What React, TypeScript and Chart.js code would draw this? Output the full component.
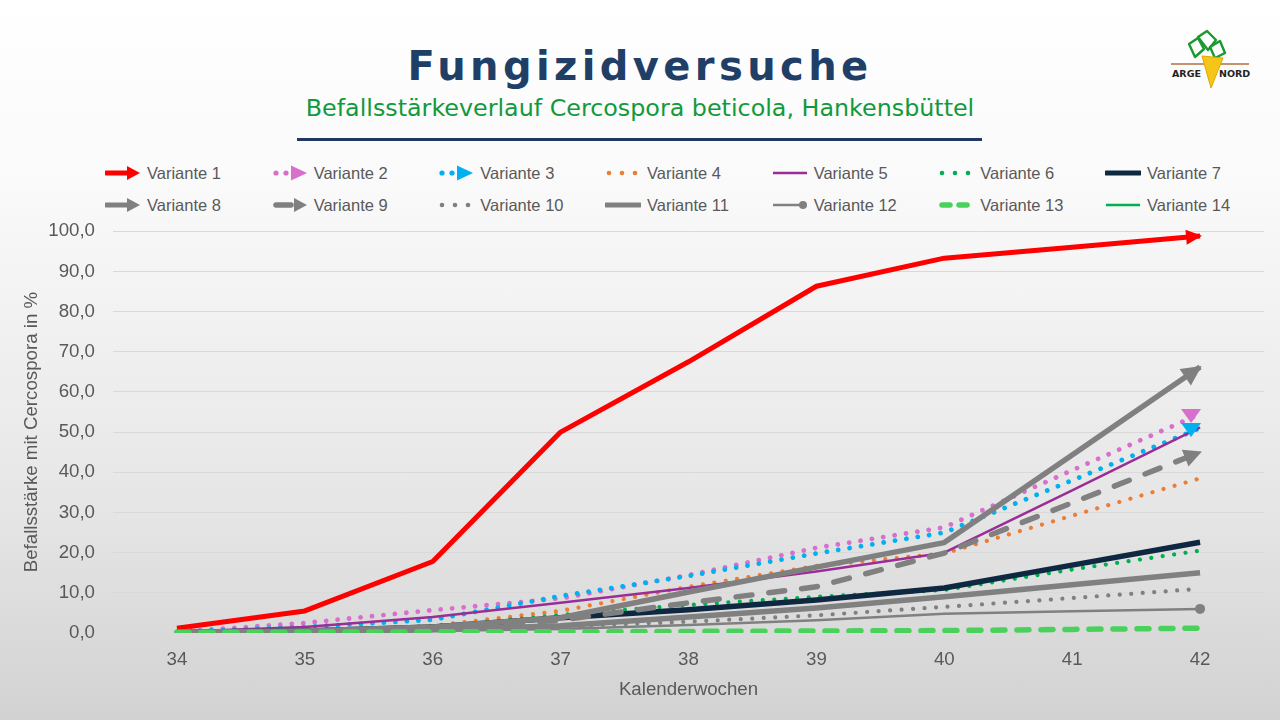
import React, { useEffect, useRef } from 'react';
import { Chart, registerables } from 'chart.js';

Chart.register(...registerables);

// ---------- data ----------
const WEEKS = ['34', '35', '36', '37', '38', '39', '40', '41', '42'];

const VARIANTE_1 = [1.2, 5.5, 17.8, 50.0, 67.5, 86.3, 93.3, 96.0, 98.8];
const VARIANTE_2 = [0.3, 2.5, 5.7, 8.6, 14.4, 21.2, 26.3, 40.5, 54.5];
const VARIANTE_3 = [0.3, 1.5, 3.3, 9.2, 14.2, 19.8, 25.0, 38.0, 51.0];
const VARIANTE_4 = [0.2, 0.5, 1.8, 5.5, 11.5, 16.7, 19.8, 29.2, 38.5];
const VARIANTE_5 = [0.3, 1.5, 4.0, 7.5, 11.2, 15.3, 20.0, 35.5, 51.2];
const VARIANTE_6 = [0.2, 0.3, 1.5, 4.5, 7.0, 9.0, 10.7, 15.8, 20.5];
const VARIANTE_7 = [0.2, 0.5, 1.5, 3.8, 5.8, 8.2, 11.2, 16.9, 22.6];
const VARIANTE_8 = [0.2, 0.5, 1.5, 3.8, 10.2, 16.4, 22.5, 44.3, 66.2];
const VARIANTE_9 = [0.1, 0.3, 1.0, 3.2, 7.5, 11.5, 19.9, 32.4, 45.0];
const VARIANTE_10 = [0.1, 0.3, 0.8, 1.6, 2.8, 4.4, 6.5, 8.7, 11.0];
const VARIANTE_11 = [0.1, 0.3, 0.8, 1.8, 4.0, 6.2, 9.0, 12.0, 15.0];
const VARIANTE_12 = [0.1, 0.2, 0.5, 1.0, 2.0, 3.2, 4.8, 5.4, 6.0];
const VARIANTE_13 = [0.1, 0.2, 0.3, 0.3, 0.4, 0.5, 0.6, 0.9, 1.2];
const VARIANTE_14: (number | null)[] = [null, null, null, null, null, null, null, null, null];

const SERIES_LABELS = [
  'Variante 1', 'Variante 2', 'Variante 3', 'Variante 4', 'Variante 5', 'Variante 6', 'Variante 7',
  'Variante 8', 'Variante 9', 'Variante 10', 'Variante 11', 'Variante 12', 'Variante 13', 'Variante 14',
];
const SERIES_VALUES = [
  VARIANTE_1, VARIANTE_2, VARIANTE_3, VARIANTE_4, VARIANTE_5, VARIANTE_6, VARIANTE_7,
  VARIANTE_8, VARIANTE_9, VARIANTE_10, VARIANTE_11, VARIANTE_12, VARIANTE_13, VARIANTE_14,
];

const Y_MIN = 0;
const Y_MAX = 100;
const Y_STEP = 10;

// ---------- styles ----------
type Kind = 'solid' | 'dot' | 'dash';
type Style = {
  color: string;
  width: number;
  kind: Kind;
  dash?: number[];
  arrow?: 'line' | 'down';
  arrowLen?: number;
  arrowWid?: number;
  endDot?: number;
};

const GRAY = '#808080';
const STYLES: Style[] = [
  { color: '#ff0000', width: 5, kind: 'solid', arrow: 'line', arrowLen: 16, arrowWid: 15 },
  { color: '#d86fcd', width: 4.8, kind: 'dot', dash: [0.01, 11.5], arrow: 'down', arrowLen: 14, arrowWid: 20 },
  { color: '#00b0f0', width: 4.8, kind: 'dot', dash: [0.01, 11.5], arrow: 'down', arrowLen: 14, arrowWid: 20 },
  { color: '#ed7d31', width: 4.2, kind: 'dot', dash: [0.01, 11.5] },
  { color: '#9b2d96', width: 2.5, kind: 'solid' },
  { color: '#00b050', width: 4.2, kind: 'dot', dash: [0.01, 11.5] },
  { color: '#0e2841', width: 5.5, kind: 'solid' },
  { color: GRAY, width: 5.5, kind: 'solid', arrow: 'line', arrowLen: 20, arrowWid: 20 },
  { color: GRAY, width: 5.5, kind: 'dash', dash: [16, 17], arrow: 'line', arrowLen: 18, arrowWid: 18 },
  { color: GRAY, width: 4.2, kind: 'dot', dash: [0.01, 11.5] },
  { color: GRAY, width: 5.5, kind: 'solid' },
  { color: GRAY, width: 2.5, kind: 'solid', endDot: 5 },
  { color: '#4ad15c', width: 5.5, kind: 'dash', dash: [12, 12] },
  { color: '#00b050', width: 2.5, kind: 'solid' },
];

const TEXT_COLOR = '#595959';
const AXIS_FONT = '"Liberation Sans", Arial, sans-serif';

const fmt = (v: number) => v.toFixed(1).replace('.', ',');

// ---------- arrowheads plugin ----------
const arrowPlugin = {
  id: 'arrowHeads',
  afterDatasetsDraw(chart: any) {
    const ctx = chart.ctx as CanvasRenderingContext2D;
    chart.data.datasets.forEach((_ds: any, i: number) => {
      const st = STYLES[i];
      if (!st || !st.arrow) return;
      const meta = chart.getDatasetMeta(i);
      const pts = meta.data;
      if (pts.length < 2) return;
      const p1 = pts[pts.length - 1];
      const p0 = pts[pts.length - 2];
      const L = st.arrowLen || 14;
      const W = st.arrowWid || 14;
      ctx.save();
      ctx.fillStyle = st.color;
      if (st.arrow === 'down') {
        ctx.translate(p1.x - 9, p1.y + 2);
        ctx.beginPath();
        ctx.moveTo(-W / 2, -L / 2);
        ctx.lineTo(W / 2, -L / 2);
        ctx.lineTo(0, L / 2);
        ctx.closePath();
        ctx.fill();
      } else {
        const ang = Math.atan2(p1.y - p0.y, p1.x - p0.x);
        ctx.translate(p1.x, p1.y);
        ctx.rotate(ang);
        ctx.beginPath();
        ctx.moveTo(2, 0);
        ctx.lineTo(2 - L, -W / 2);
        ctx.lineTo(2 - L, W / 2);
        ctx.closePath();
        ctx.fill();
      }
      ctx.restore();
    });
  },
};

// ---------- legend sample ----------
function LegendSample({ s }: { s: Style }) {
  const y = 8;
  const w = s.kind === 'solid' ? Math.min(s.width, 5) : s.width;
  const items: React.ReactNode[] = [];
  if (s.kind === 'dot') {
    const xs = s.arrow ? [4, 14] : [4, 17, 30];
    xs.forEach((x, k) => items.push(<circle key={'d' + k} cx={x} cy={y} r={s.width / 2 + 0.2} fill={s.color} />));
  } else if (s.kind === 'dash') {
    if (s.arrow) {
      items.push(<line key="l" x1={4} y1={y} x2={19} y2={y} stroke={s.color} strokeWidth={w} strokeLinecap="round" />);
    } else {
      items.push(<line key="l1" x1={4} y1={y} x2={12} y2={y} stroke={s.color} strokeWidth={w} strokeLinecap="round" />);
      items.push(<line key="l2" x1={21} y1={y} x2={29} y2={y} stroke={s.color} strokeWidth={w} strokeLinecap="round" />);
    }
  } else {
    const x2 = s.arrow ? 24 : s.endDot ? 31 : 35;
    items.push(<line key="l" x1={1} y1={y} x2={x2} y2={y} stroke={s.color} strokeWidth={w} strokeLinecap={s.width > 4 ? 'round' : 'butt'} />);
    if (s.endDot) items.push(<circle key="c" cx={31} cy={y} r={4} fill={s.color} />);
  }
  if (s.arrow) {
    const x0 = s.kind === 'dot' ? 19 : 22;
    const hh = s.kind === 'dot' ? 7.5 : 7;
    items.push(<polygon key="a" points={`${x0},${y - hh} ${35},${y} ${x0},${y + hh}`} fill={s.color} />);
  }
  return (
    <svg width={36} height={16} style={{ display: 'block', flex: '0 0 auto' }}>
      {items}
    </svg>
  );
}

function Logo() {
  return (
    <svg width={90} height={70} style={{ position: 'absolute', left: 1165, top: 28 }} viewBox="0 0 90 70">
      <g fill="none" stroke="#1a9a2e" strokeWidth={2.4} strokeLinejoin="round">
        <polygon points="24,16 33,10 39,21 30,29" />
        <polygon points="33,9 42,3 51,12 43,22" />
        <polygon points="45,19 55,13 60,25 50,30" />
      </g>
      <line x1={6} y1={36} x2={84} y2={36} stroke="#b07040" strokeWidth={1.3} />
      <polygon points="37,28 58,30 46,60" fill="#f5c518" stroke="#e0a800" strokeWidth={1} />
      <text x={7} y={49} fontFamily='"DejaVu Sans", sans-serif' fontWeight="bold" fontSize={9.5} fill="#222">ARGE</text>
      <text x={54} y={49} fontFamily='"DejaVu Sans", sans-serif' fontWeight="bold" fontSize={9.5} fill="#222">NORD</text>
    </svg>
  );
}

export default function App() {
  const canvasRef = useRef<HTMLCanvasElement>(null);

  useEffect(() => {
    const canvas = canvasRef.current;
    if (!canvas) return;
    const n = SERIES_VALUES.length;
    const datasets = SERIES_VALUES.map((data, i) => {
      const s = STYLES[i];
      return {
        label: SERIES_LABELS[i],
        data,
        borderColor: s.color,
        backgroundColor: s.color,
        borderWidth: s.width,
        borderDash: s.dash || [],
        borderCapStyle: s.kind === 'solid' ? 'butt' : 'round',
        borderJoinStyle: 'round',
        pointRadius: s.endDot ? data.map((_v, j) => (j === data.length - 1 ? s.endDot : 0)) : 0,
        pointHoverRadius: 0,
        pointBorderWidth: 0,
        pointBackgroundColor: s.color,
        tension: 0,
        fill: false,
        order: n - i,
      };
    });

    const chart = new Chart(canvas, {
      type: 'line',
      data: { labels: WEEKS, datasets: datasets as any },
      options: {
        responsive: false,
        animation: false,
        events: [],
        layout: { padding: { top: 16, right: 16, left: 0, bottom: 0 } },
        plugins: {
          legend: { display: false },
          tooltip: { enabled: false },
          title: { display: false },
        },
        scales: {
          x: {
            type: 'category',
            offset: true,
            grid: { display: false, drawTicks: false },
            border: { display: false },
            ticks: { color: TEXT_COLOR, font: { family: AXIS_FONT, size: 18.7 }, padding: 16, maxRotation: 0 },
            title: {
              display: true,
              text: 'Kalenderwochen',
              color: TEXT_COLOR,
              font: { family: AXIS_FONT, size: 18.7 },
              padding: { top: 0, bottom: 19 },
            },
            afterFit: (scale: any) => {
              scale.height = 87;
            },
          },
          y: {
            min: Y_MIN,
            max: Y_MAX,
            grid: { color: '#d9d9d9', lineWidth: 1, drawTicks: false },
            border: { display: false },
            ticks: {
              stepSize: Y_STEP,
              color: TEXT_COLOR,
              font: { family: AXIS_FONT, size: 18.7 },
              padding: 18,
              callback: (v: any) => fmt(Number(v)),
            },
            title: {
              display: true,
              text: 'Befallsstärke mit Cercospora in %',
              color: TEXT_COLOR,
              font: { family: AXIS_FONT, size: 18.7 },
              padding: { top: 21, bottom: 0 },
            },
            afterFit: (scale: any) => {
              scale.width = 113;
            },
          },
        },
      } as any,
      plugins: [arrowPlugin],
    });
    return () => chart.destroy();
  }, []);

  return (
    <div
      style={{
        position: 'fixed',
        left: 0,
        top: 0,
        width: 1280,
        height: 720,
        overflow: 'hidden',
        background: 'linear-gradient(to bottom, #ffffff 0%, #fafafa 25%, #e6e6e6 70%, #d2d2d2 100%)',
      }}
    >
      <div
        style={{
          position: 'absolute',
          left: 0,
          width: 1280,
          top: 46,
          textAlign: 'center',
          fontFamily: '"DejaVu Sans", Verdana, sans-serif',
          fontWeight: 'bold',
          fontSize: 40,
          lineHeight: '40px',
          letterSpacing: 4.4,
          color: '#1f3f66',
        }}
      >
        Fungizidversuche
      </div>
      <div
        style={{
          position: 'absolute',
          left: 0,
          width: 1280,
          top: 96,
          textAlign: 'center',
          fontFamily: '"DejaVu Sans", sans-serif',
          fontSize: 23.8,
          lineHeight: '24px',
          color: '#119a3b',
        }}
      >
        Befallsstärkeverlauf Cercospora beticola, Hankensbüttel
      </div>
      <div style={{ position: 'absolute', left: 297, top: 138, width: 685, height: 3, background: '#1f3864' }} />
      <Logo />
      <div
        style={{
          position: 'absolute',
          left: 105,
          top: 157,
          display: 'grid',
          gridTemplateColumns: 'repeat(7, 166.67px)',
          gridAutoRows: '32px',
        }}
      >
        {SERIES_LABELS.map((lab, i) => (
          <div key={lab} style={{ display: 'flex', alignItems: 'center', height: 32 }}>
            <LegendSample s={STYLES[i]} />
            <span
              style={{
                marginLeft: 6,
                fontFamily: AXIS_FONT,
                fontSize: 16.5,
                color: TEXT_COLOR,
                whiteSpace: 'nowrap',
              }}
            >
              {lab}
            </span>
          </div>
        ))}
      </div>
      <canvas
        ref={canvasRef}
        width={1280}
        height={518}
        style={{ position: 'absolute', left: 0, top: 202, width: 1280, height: 518 }}
      />
    </div>
  );
}
